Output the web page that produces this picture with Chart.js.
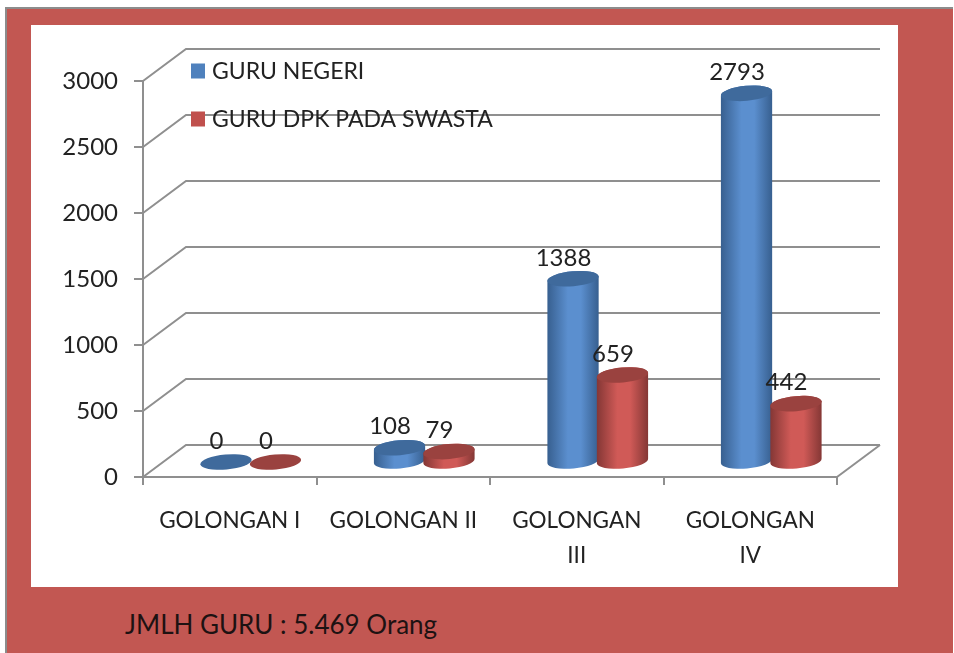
<!DOCTYPE html>
<html>
<head>
<meta charset="utf-8">
<style>
    html, body { margin: 0; padding: 0; background: #fff; overflow: hidden; }
    #frame { position: absolute; left: 5px; top: 7px; width: 948px; height: 646px; background: #C25752;
        border-top: 2px solid #8c8c8c; border-left: 2px solid #8c8c8c; box-sizing: border-box; }
    #panel { position: absolute; left: 31px; top: 25px; width: 867px; height: 562px; background: #fff; }
    #total { position: absolute; left: 125px; top: 608px; font: 26px Lato, sans-serif; color: #1d1212; white-space: nowrap; }
    canvas { position: absolute; left: 0; top: 0; }
</style>
<script src="https://cdn.jsdelivr.net/npm/chart.js@4/dist/chart.umd.min.js"></script>
</head>
<body>
<div id="frame"></div>
<div id="panel"></div>
<div id="total">JMLH GURU : 5.469 Orang</div>
<canvas id="myChart" width="954" height="653"></canvas>
<script>
const categories = ['GOLONGAN I', 'GOLONGAN II', ['GOLONGAN', 'III'], ['GOLONGAN', 'IV']];
const guruNegeri = [0, 108, 1388, 2793];
const guruSwasta = [0, 79, 659, 442];
const seriesNames = ['GURU NEGERI', 'GURU DPK PADA SWASTA'];

const gridColor = '#8f8f8f';
const textColor = '#222222';
const fontFamily = 'Lato, sans-serif';

// depth of the fake 3d box, and where the cylinders stand inside it
const wallDx = 43, wallDy = -32;
const barDx = 21, barDy = -15;

const cylinderStyle = [
    { legend: '#4F81BD', top: '#3F6A9C', edge: '#375F8F', mid: '#5B8FCF' },
    { legend: '#C0504D', top: '#9A423F', edge: '#843735', mid: '#D05A57' },
];

const wallPlugin = {
    id: 'wall',
    beforeDatasetsDraw(chart) {
        const c = chart.ctx, y = chart.scales.y, area = chart.chartArea;
        c.save();
        c.strokeStyle = gridColor;
        c.lineWidth = 2;
        y.ticks.forEach(t => {
            const py = y.getPixelForValue(t.value);
            c.beginPath();
            c.moveTo(area.left, py);
            c.lineTo(area.left + wallDx, py + wallDy);
            c.lineTo(area.right + wallDx, py + wallDy);
            c.stroke();
        });
        // right edge of the floor
        c.beginPath();
        c.moveTo(area.right, area.bottom);
        c.lineTo(area.right + wallDx, area.bottom + wallDy);
        c.stroke();
        c.restore();
    }
};

// runs after the (transparent) bars, first series first so the red ones overlap the blue
const cylinderPlugin = {
    id: 'cylinder',
    afterDatasetsDraw(chart) {
        const c = chart.ctx;
        const tilt = -0.09, ry = 7.5;
        chart.data.datasets.forEach((ds, i) => {
            const style = cylinderStyle[i];
            chart.getDatasetMeta(i).data.forEach(bar => {
                const cx = bar.x + barDx, rx = bar.width / 2 + 1;
                const topY = bar.y + barDy, baseY = bar.base + barDy;
                c.save();
                if (baseY - topY > 0.5) {
                    const g = c.createLinearGradient(cx - rx, 0, cx + rx, 0);
                    g.addColorStop(0, style.edge);
                    g.addColorStop(0.4, style.mid);
                    g.addColorStop(0.65, style.mid);
                    g.addColorStop(1, style.edge);
                    c.fillStyle = g;
                    c.beginPath();
                    c.ellipse(cx, baseY, rx, ry, tilt, 0, Math.PI);
                    c.ellipse(cx, topY, rx, ry, tilt, Math.PI, Math.PI * 2);
                    c.closePath();
                    c.fill();
                }
                c.fillStyle = style.top;
                c.beginPath();
                c.ellipse(cx, topY, rx, ry, tilt, 0, Math.PI * 2);
                c.fill();
                c.restore();
            });
        });
    }
};

const labelPlugin = {
    id: 'labels',
    afterDatasetsDraw(chart) {
        const c = chart.ctx;
        c.save();
        c.fillStyle = textColor;
        c.textAlign = 'center';
        c.textBaseline = 'middle';
        c.font = '24px ' + fontFamily;
        chart.data.datasets.forEach((ds, i) => {
            chart.getDatasetMeta(i).data.forEach((bar, j) => {
                c.fillText(ds.data[j], bar.x + barDx - 9.5, bar.y + barDy - 21);
            });
        });
        // legend sits inside the plot, over the grid lines
        c.textAlign = 'left';
        c.font = '23px ' + fontFamily;
        seriesNames.forEach((name, i) => {
            const ly = 71 + i * 48;
            c.fillStyle = cylinderStyle[i].legend;
            c.fillRect(191, ly - 7.5, 14, 15);
            c.fillStyle = textColor;
            c.fillText(name, 212, ly + 1);
        });
        c.restore();
    }
};

const myChart = new Chart(document.getElementById('myChart').getContext('2d'), {
    type: 'bar',
    plugins: [wallPlugin, cylinderPlugin, labelPlugin],
    data: {
        labels: categories,
        datasets: [
            { label: seriesNames[0], data: guruNegeri, backgroundColor: 'rgba(0,0,0,0)' },
            { label: seriesNames[1], data: guruSwasta, backgroundColor: 'rgba(0,0,0,0)' },
        ]
    },
    options: {
        responsive: false,
        animation: false,
        categoryPercentage: 0.57,
        barPercentage: 1,
        layout: { padding: { left: 0, right: 117, top: 81, bottom: 0 } },
        plugins: {
            legend: { display: false },
            tooltip: { enabled: false },
        },
        scales: {
            x: {
                afterFit(scale) { scale.height = 176; },
                grid: { drawOnChartArea: false, color: gridColor, lineWidth: 2, tickLength: 8 },
                border: { color: gridColor, width: 2 },
                ticks: {
                    color: textColor,
                    padding: 18,
                    maxRotation: 0,
                    font: { family: fontFamily, size: 22.5, lineHeight: 1.55 },
                },
            },
            y: {
                min: 0,
                max: 3000,
                afterFit(scale) { scale.width = 143; },
                grid: { drawOnChartArea: false, color: gridColor, lineWidth: 2, tickLength: 9 },
                border: { color: gridColor, width: 2 },
                ticks: {
                    stepSize: 500,
                    color: textColor,
                    padding: 16,
                    font: { family: fontFamily, size: 24 },
                    callback: v => v,
                },
            },
        },
    },
});
</script>
</body>
</html>
